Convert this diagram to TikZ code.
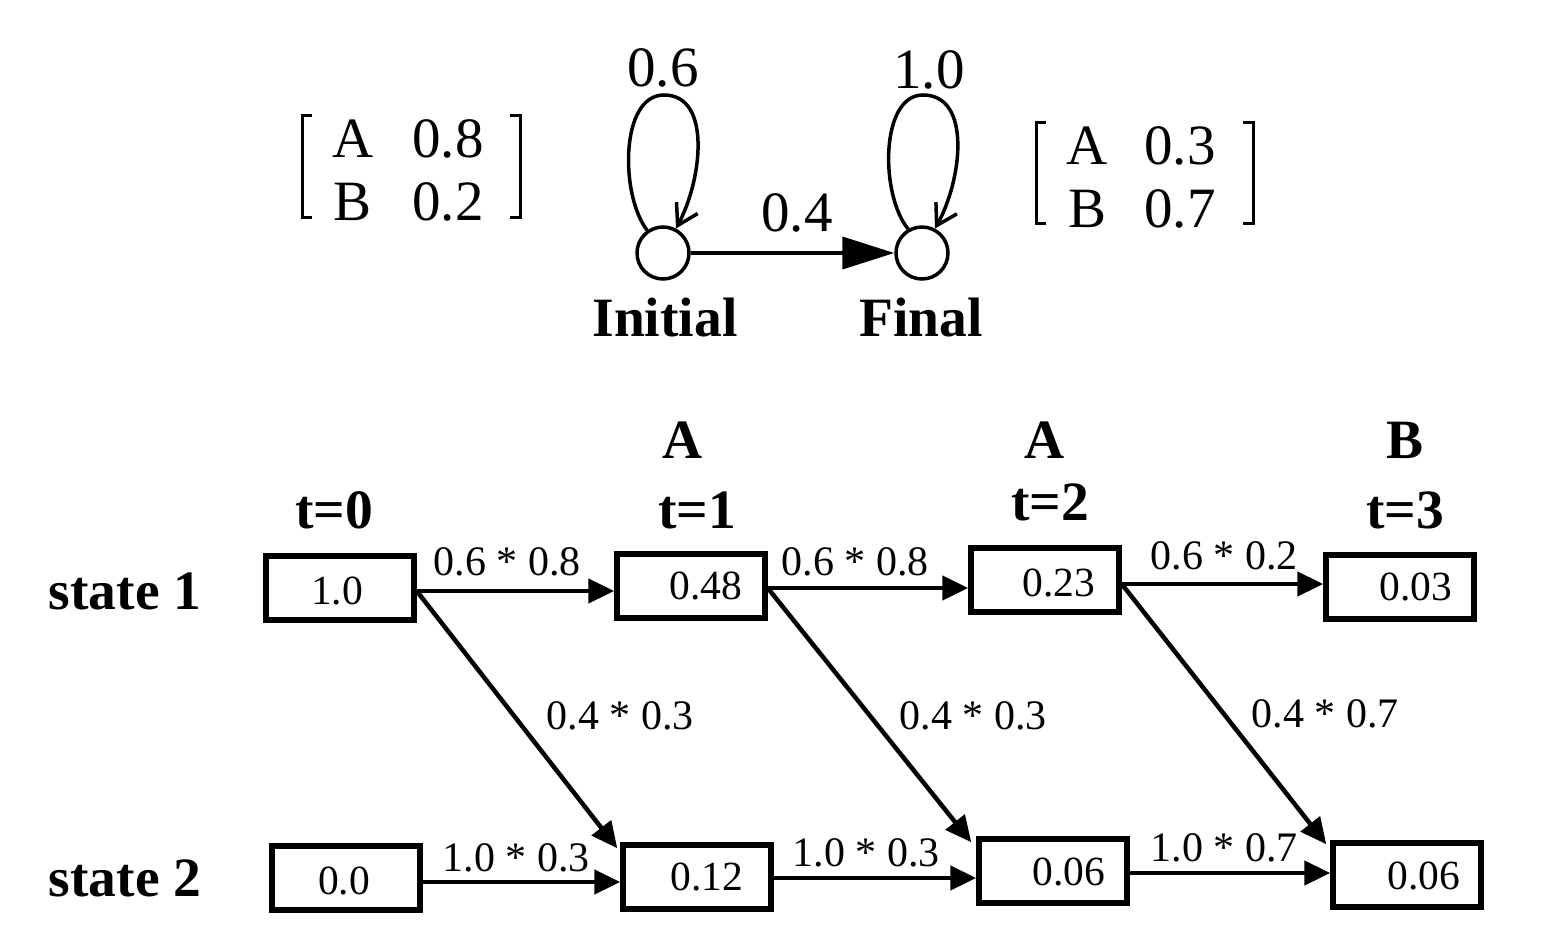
\documentclass[tikz,border=0pt]{standalone}
\usepackage{fontspec}
\setmainfont{Liberation Serif}
\usetikzlibrary{arrows.meta}
\tikzset{
  cell/.style={draw, line width=5.5pt, minimum width=148pt, minimum height=64pt, inner sep=0pt},
  val/.style={font=\fontsize{41.5}{44}\selectfont, inner sep=0pt},
  elab/.style={font=\fontsize{42}{44}\selectfont, inner sep=0pt},
  big/.style={font=\fontsize{57}{60}\selectfont, inner sep=0pt},
  bold/.style={font=\fontsize{55.5}{58}\selectfont\bfseries, inner sep=0pt},
  arr/.style={line width=4.5pt, -{Triangle[length=26pt,width=24pt]}},
  st/.style={draw, circle, line width=3.5pt, minimum size=52pt, inner sep=0pt},
  loopl/.style={line width=3.5pt, -{Straight Barb[length=20pt,width=24pt,line width=3.5pt]}},
  brk/.style={line width=3pt}
}
\begin{document}
\begin{tikzpicture}[x=1pt,y=-1pt]
\useasboundingbox (0,0) rectangle (1546,934);
% ---- top automaton
\node[st] (ini) at (663,253) {};
\node[st] (fin) at (922,253) {};
\draw[line width=4pt, -{Triangle[length=52pt,width=32pt]}] (ini) -- (fin);
\node[big] (l04) at (797,213) {0.4};
\draw[loopl] (ini.125) .. controls (620,195) and (620,95) .. (664,95) .. controls (712,95) and (702,180) .. (ini.62);
\draw[loopl] (fin.120) .. controls (880,195) and (880,95) .. (923,95) .. controls (972,95) and (962,180) .. (fin.62);
\node[big] (l06) at (663,68) {0.6};
\node[big] (l10) at (929,70) {1.0};
\node[bold] (ninit) at (665,318) {Initial};
\node[bold] (nfin) at (921,318) {Final};
% left matrix
\draw[brk] (312,115) -- (302,115) -- (302,217) -- (312,217);
\draw[brk] (510,115) -- (520,115) -- (520,217) -- (510,217);
\node[big] (ma1) at (353,139) {A};
\node[big] (mv1) at (448,139) {0.8};
\node[big] (mb1) at (353,202) {B};
\node[big] (mw1) at (448,202) {0.2};
% right matrix
\draw[brk] (1046,122) -- (1036,122) -- (1036,223) -- (1046,223);
\draw[brk] (1243,122) -- (1253,122) -- (1253,223) -- (1243,223);
\node[big] (ma2) at (1087,146) {A};
\node[big] (mv2) at (1180,146) {0.3};
\node[big] (mb2) at (1087,209) {B};
\node[big] (mw2) at (1180,209) {0.7};
% ---- trellis
\node[bold] (s1) at (125,591) {state 1};
\node[bold] (s2) at (125,878) {state 2};
\node[bold] (t0) at (334,510) {t=0};
\node[bold] (o1) at (683,440) {A};
\node[bold] (t1) at (697,510) {t=1};
\node[bold] (o2) at (1045,440) {A};
\node[bold] (t2) at (1050,502) {t=2};
\node[bold] (o3) at (1405,440) {B};
\node[bold] (t3) at (1405,510) {t=3};
% boxes
\node[cell] (b10) at (340,588) {};
\node[cell] (b11) at (691,586) {};
\node[cell] (b12) at (1045,580) {};
\node[cell] (b13) at (1400,587) {};
\node[cell] (b20) at (346,878) {};
\node[cell] (b21) at (697,877) {};
\node[cell] (b22) at (1053,871) {};
\node[cell] (b23) at (1407,875) {};
\node[val] (v10) at (337,591) {1.0};
\node[val] (v11) at (706,586) {0.48};
\node[val] (v12) at (1059,583) {0.23};
\node[val] (v13) at (1416,587) {0.03};
\node[val] (v20) at (344,881) {0.0};
\node[val] (v21) at (707,877) {0.12};
\node[val] (v22) at (1069,872) {0.06};
\node[val] (v23) at (1424,876) {0.06};
% arrows
\draw[arr] ([yshift=-3pt]b10.east) -- ([yshift=-3pt]b10.east -| b11.west);
\draw[arr] ([yshift=-2pt]b11.east) -- ([yshift=-2pt]b11.east -| b12.west);
\draw[arr] ([yshift=-4pt]b12.east) -- ([yshift=-4pt]b12.east -| b13.west);
\draw[arr] ([yshift=-4pt]b20.east) -- ([yshift=-4pt]b20.east -| b21.west);
\draw[arr] ([yshift=-1pt]b21.east) -- ([yshift=-1pt]b21.east -| b22.west);
\draw[arr] ([yshift=-2pt]b22.east) -- ([yshift=-2pt]b22.east -| b23.west);
\draw[arr] ([yshift=-3pt]b10.east) -- ([xshift=-3pt,yshift=-6pt]b21.north west);
\draw[arr] ([yshift=-2pt]b11.east) -- ([xshift=-5pt,yshift=-6pt]b22.north west);
\draw[arr] ([yshift=-4pt]b12.east) -- ([xshift=-4pt,yshift=-4pt]b23.north west);
\node[elab] (e1) at (507,562) {0.6 * 0.8};
\node[elab] (e2) at (855,562) {0.6 * 0.8};
\node[elab] (e3) at (1224,556) {0.6 * 0.2};
\node[elab] (e4) at (516,858) {1.0 * 0.3};
\node[elab] (e5) at (866,853) {1.0 * 0.3};
\node[elab] (e6) at (1224,848) {1.0 * 0.7};
\node[elab] (d1) at (620,716) {0.4 * 0.3};
\node[elab] (d2) at (973,716) {0.4 * 0.3};
\node[elab] (d3) at (1325,714) {0.4 * 0.7};
\end{tikzpicture}
\end{document}
